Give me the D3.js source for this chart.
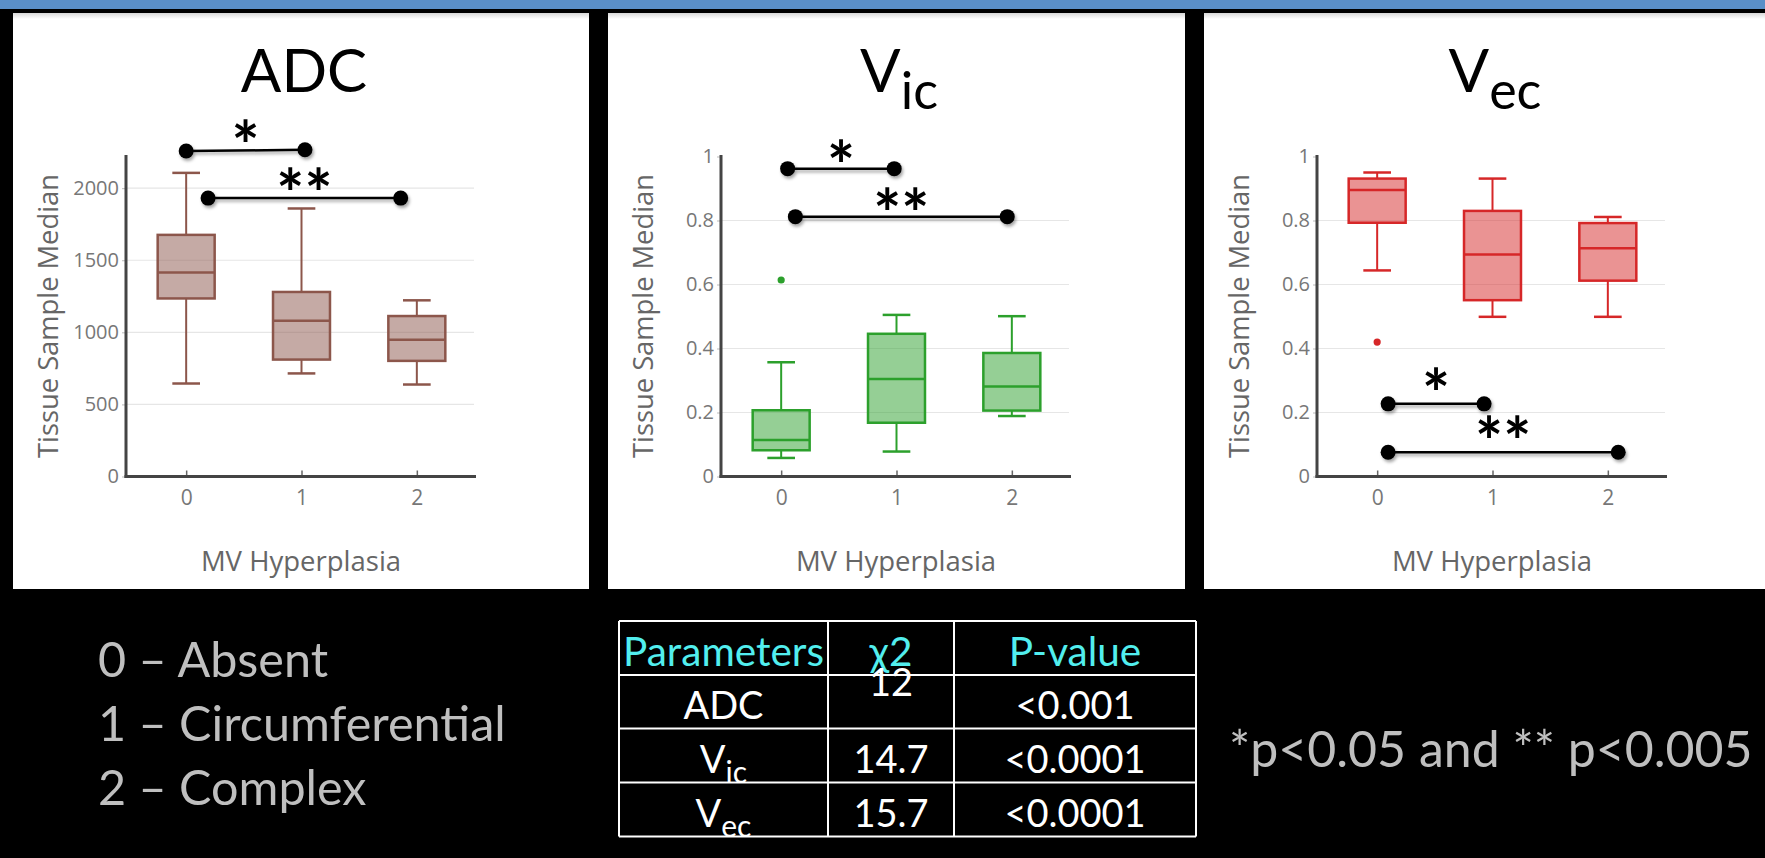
<!DOCTYPE html>
<html>
<head>
<meta charset="utf-8">
<script src="https://cdn.jsdelivr.net/npm/d3@7"></script>
<style>
  html, body { margin: 0; padding: 0; background: #000; }
  svg { display: block; }
</style>
</head>
<body>
<svg id="fig" width="1765" height="858"></svg>
<script>
// ---- data -------------------------------------------------------------
const categories = [0, 1, 2];
const legendLines = ["0 \u2013 Absent", "1 \u2013 Circumferential", "2 \u2013 Complex"];

// each box: [lower whisker, Q1, median, Q3, upper whisker]
const adcBoxes = [
  [645, 1235, 1415, 1676, 2106],
  [715, 811, 1081, 1280, 1859],
  [638, 802, 949, 1113, 1222]
];
const adcOutliers = [];
const adcTicks = [0, 500, 1000, 1500, 2000];

const vicBoxes = [
  [0.058, 0.082, 0.114, 0.207, 0.357],
  [0.078, 0.168, 0.305, 0.446, 0.505],
  [0.189, 0.206, 0.281, 0.386, 0.501]
];
const vicOutliers = [[0, 0.614]];

const vecBoxes = [
  [0.644, 0.793, 0.895, 0.931, 0.950],
  [0.499, 0.551, 0.694, 0.830, 0.931],
  [0.499, 0.612, 0.713, 0.792, 0.811]
];
const vecOutliers = [[0, 0.420]];
const fractionTicks = [0, 0.2, 0.4, 0.6, 0.8, 1];

// significance brackets: from / to in category units, height in data units
const adcBrackets = [
  { from: 0.00, to: 1.03, y0: 2258, y1: 2266, mark: "*" },
  { from: 0.19, to: 1.86, y0: 1931, y1: 1931, mark: "**" }
];
const vicBrackets = [
  { from: 0.056, to: 0.98, y0: 0.962, y1: 0.962, mark: "*" },
  { from: 0.123, to: 1.96, y0: 0.812, y1: 0.812, mark: "**" }
];
const vecBrackets = [
  { from: 0.095, to: 0.927, y0: 0.227, y1: 0.227, mark: "*" },
  { from: 0.095, to: 2.09, y0: 0.076, y1: 0.076, mark: "**" }
];

const tableHeader = ["Parameters", "\u03C72", "P-value"];
const tableParams = [["ADC", ""], ["V", "ic"], ["V", "ec"]];
const tableChi2 = ["12", "14.7", "15.7"];
const tablePValues = ["<0.001", "<0.0001", "<0.0001"];
const footnote = "*p<0.05 and ** p<0.005";

// ---- drawing ----------------------------------------------------------
const svg = d3.select("#fig");
const W = 1765, H = 858;
const titleFont = "Lato, 'Open Sans', sans-serif";
const plotFont = "'Open Sans', 'Noto Sans', sans-serif";

const defs = svg.append("defs");
const shadow = defs.append("filter").attr("id", "markShadow")
  .attr("x", "-20%").attr("y", "-50%").attr("width", "140%").attr("height", "220%");
shadow.append("feDropShadow").attr("dx", 1.5).attr("dy", 2.5)
  .attr("stdDeviation", 1.6).attr("flood-color", "#000").attr("flood-opacity", 0.35);
const topShade = defs.append("linearGradient").attr("id", "topShade")
  .attr("x1", 0).attr("y1", 0).attr("x2", 0).attr("y2", 1);
topShade.append("stop").attr("offset", 0).attr("stop-color", "#d8d8d8");
topShade.append("stop").attr("offset", 1).attr("stop-color", "#fff");

svg.append("rect").attr("width", W).attr("height", H).attr("fill", "#000");
svg.append("rect").attr("width", W).attr("height", 9).attr("fill", "#5a8fc8");

const panels = [
  { left: 13,   width: 576, title: "ADC", sub: "", boxes: adcBoxes, outliers: adcOutliers,
    ticks: adcTicks, yMax: 2230, color: "#8c564b", brackets: adcBrackets, markGap: 15 },
  { left: 608,  width: 577, title: "V", sub: "ic", boxes: vicBoxes, outliers: vicOutliers,
    ticks: fractionTicks, yMax: 1, color: "#2ca02c", brackets: vicBrackets, markGap: 14 },
  { left: 1204, width: 561, title: "V", sub: "ec", boxes: vecBoxes, outliers: vecOutliers,
    ticks: fractionTicks, yMax: 1, color: "#d62728", brackets: vecBrackets, markGap: 21 }
];

const panelTop = 13, panelBottom = 589;
const yZero = 476.5, yTop = 156.5;

panels.forEach(p => {
  const g = svg.append("g");
  g.append("rect").attr("x", p.left).attr("y", panelTop)
    .attr("width", p.width).attr("height", panelBottom - panelTop).attr("fill", "#fff");
  g.append("rect").attr("x", p.left).attr("y", panelTop)
    .attr("width", p.width).attr("height", 6).attr("fill", "url(#topShade)");

  const axisL = p.left + 113, axisR = p.left + 463;
  const x = d3.scaleLinear().domain([-0.5, 2.5]).range([p.left + 115.5, p.left + 461.5]);
  const y = d3.scaleLinear().domain([0, p.yMax]).range([yZero, p.yMax === 1 ? yTop : 155]);

  // grid
  g.append("g").selectAll("line").data(p.ticks.filter(t => t > 0 && t < p.yMax)).join("line")
    .attr("x1", axisL).attr("x2", axisR - 2)
    .attr("y1", d => y(d)).attr("y2", d => y(d))
    .attr("stroke", "#e6e6e6").attr("stroke-width", 1.2);

  // axes
  const fmt = p.yMax === 1 ? (d => d === 0 || d === 1 ? String(d) : d3.format(".1f")(d)) : d3.format("d");
  const yAxis = g.append("g").attr("transform", `translate(${axisL},0)`)
    .call(d3.axisLeft(y).tickValues(p.ticks).tickFormat(fmt).tickSize(4).tickPadding(3));
  yAxis.select(".domain").remove();
  yAxis.selectAll(".tick line").attr("stroke", "#bbb");
  yAxis.selectAll("text").attr("fill", "#777").attr("font-family", plotFont)
    .attr("font-size", 20);

  const xAxis = g.append("g").attr("transform", `translate(0,${yZero})`)
    .call(d3.axisBottom(x).tickValues(categories).tickFormat(d3.format("d")).tickSize(-6).tickPadding(14));
  xAxis.select(".domain").remove();
  xAxis.selectAll(".tick line").attr("stroke", "#666").attr("stroke-width", 1.5);
  xAxis.selectAll("text").attr("fill", "#777").attr("font-family", plotFont)
    .attr("font-size", 21);

  g.append("line").attr("x1", axisL).attr("x2", axisL).attr("y1", 155).attr("y2", yZero + 1.5)
    .attr("stroke", "#444").attr("stroke-width", 3);
  g.append("line").attr("x1", axisL - 1.5).attr("x2", axisR).attr("y1", yZero).attr("y2", yZero)
    .attr("stroke", "#444").attr("stroke-width", 3);

  // axis titles
  g.append("text").attr("transform", `translate(${p.left + 35},316) rotate(-90)`)
    .attr("text-anchor", "middle").attr("dy", "0.35em")
    .attr("font-family", plotFont).attr("font-size", 27.3).attr("fill", "#666")
    .text("Tissue Sample Median");
  g.append("text").attr("x", (axisL + axisR) / 2).attr("y", 571)
    .attr("text-anchor", "middle")
    .attr("font-family", plotFont).attr("font-size", 27.5).attr("fill", "#666")
    .text("MV Hyperplasia");

  // panel title
  const t = g.append("text").attr("x", (axisL + axisR) / 2 + 3).attr("y", 92)
    .attr("text-anchor", "middle").attr("font-family", titleFont).attr("fill", "#000");
  t.append("tspan").attr("font-size", 60).text(p.title);
  if (p.sub) t.append("tspan").attr("font-size", 52).attr("dy", 17).text(p.sub);

  // boxes
  const halfBox = 0.247, halfCap = 0.12;
  const fill = d3.color(p.color); fill.opacity = 0.5;
  const bg = g.append("g").selectAll("g").data(p.boxes).join("g");
  bg.append("line")
    .attr("x1", (d, i) => x(i)).attr("x2", (d, i) => x(i))
    .attr("y1", d => y(d[0])).attr("y2", d => y(d[1]))
    .attr("stroke", p.color).attr("stroke-width", 2);
  bg.append("line")
    .attr("x1", (d, i) => x(i)).attr("x2", (d, i) => x(i))
    .attr("y1", d => y(d[3])).attr("y2", d => y(d[4]))
    .attr("stroke", p.color).attr("stroke-width", 2);
  [0, 4].forEach(k => {
    bg.append("line")
      .attr("x1", (d, i) => x(i - halfCap)).attr("x2", (d, i) => x(i + halfCap))
      .attr("y1", d => y(d[k])).attr("y2", d => y(d[k]))
      .attr("stroke", p.color).attr("stroke-width", 2.5);
  });
  bg.append("rect")
    .attr("x", (d, i) => x(i - halfBox)).attr("width", (d, i) => x(i + halfBox) - x(i - halfBox))
    .attr("y", d => y(d[3])).attr("height", d => y(d[1]) - y(d[3]))
    .attr("fill", fill.formatRgb()).attr("stroke", p.color).attr("stroke-width", 2.5);
  bg.append("line")
    .attr("x1", (d, i) => x(i - halfBox)).attr("x2", (d, i) => x(i + halfBox))
    .attr("y1", d => y(d[2])).attr("y2", d => y(d[2]))
    .attr("stroke", p.color).attr("stroke-width", 2.5);

  g.append("g").selectAll("circle").data(p.outliers).join("circle")
    .attr("cx", d => x(d[0])).attr("cy", d => y(d[1])).attr("r", 3.6)
    .attr("fill", p.color);

  // significance brackets
  const br = g.append("g").selectAll("g").data(p.brackets).join("g");
  const marks = br.append("g").attr("filter", "url(#markShadow)");
  marks.append("line")
    .attr("x1", d => x(d.from)).attr("x2", d => x(d.to))
    .attr("y1", d => y(d.y0)).attr("y2", d => y(d.y1))
    .attr("stroke", "#000").attr("stroke-width", 2.5);
  marks.append("circle").attr("cx", d => x(d.from)).attr("cy", d => y(d.y0)).attr("r", 7.5).attr("fill", "#000");
  marks.append("circle").attr("cx", d => x(d.to)).attr("cy", d => y(d.y1)).attr("r", 7.5).attr("fill", "#000");
  br.append("text")
    .attr("x", d => (x(d.from) + x(d.to)) / 2)
    .attr("y", d => (y(d.y0) + y(d.y1)) / 2 - p.markGap + 35)
    .attr("text-anchor", "middle").attr("font-family", titleFont)
    .attr("font-size", 66).attr("font-weight", 700).attr("fill", "#000")
    .text(d => d.mark);
});

// ---- category key ----------------------------------------------------
svg.append("g").selectAll("text").data(legendLines).join("text")
  .attr("x", 98).attr("y", (d, i) => 677 + i * 64)
  .attr("font-family", titleFont).attr("font-size", 48.5).attr("fill", "#bfbfbf")
  .text(d => d);

// ---- test statistics table ------------------------------------------
const colEdges = [619, 828, 954, 1196];
const rowEdges = [621, 675, 728.5, 782.5, 836.5];
const tbl = svg.append("g");
tbl.append("g").selectAll("line").data(rowEdges).join("line")
  .attr("x1", colEdges[0]).attr("x2", colEdges[3])
  .attr("y1", d => d).attr("y2", d => d)
  .attr("stroke", "#fff").attr("stroke-width", 2);
tbl.append("g").selectAll("line").data(colEdges).join("line")
  .attr("x1", d => d).attr("x2", d => d)
  .attr("y1", rowEdges[0]).attr("y2", rowEdges[4])
  .attr("stroke", "#fff").attr("stroke-width", 2);
const colMid = i => (colEdges[i] + colEdges[i + 1]) / 2;
const rowBase = [666, 719, 773, 827];
tbl.append("g").selectAll("text").data(tableHeader).join("text")
  .attr("x", (d, i) => colMid(i)).attr("y", rowBase[0])
  .attr("text-anchor", "middle").attr("font-family", titleFont).attr("font-size", 40.5)
  .attr("fill", "#52eeee").text(d => d);
const paramText = tbl.append("g").selectAll("text").data(tableParams).join("text")
  .attr("x", colMid(0)).attr("y", (d, i) => rowBase[i + 1])
  .attr("text-anchor", "middle").attr("font-family", titleFont).attr("font-size", 38)
  .attr("fill", "#fff");
paramText.append("tspan").text(d => d[0]);
paramText.filter(d => d[1]).append("tspan").attr("font-size", 30).attr("dy", 10).text(d => d[1]);
tbl.append("g").selectAll("text").data(tableChi2).join("text")
  .attr("x", colMid(1)).attr("y", (d, i) => i === 0 ? 696 : rowBase[i + 1])
  .attr("text-anchor", "middle").attr("font-family", titleFont).attr("font-size", 38)
  .attr("fill", "#fff").text(d => d);
tbl.append("g").selectAll("text").data(tablePValues).join("text")
  .attr("x", colMid(2)).attr("y", (d, i) => rowBase[i + 1])
  .attr("text-anchor", "middle").attr("font-family", titleFont).attr("font-size", 38)
  .attr("fill", "#fff").text(d => d);

// ---- footnote ----------------------------------------------------------
svg.append("text").attr("x", 1229).attr("y", 767)
  .attr("font-family", titleFont).attr("font-size", 50).attr("fill", "#bfbfbf")
  .text(footnote);
</script>
</body>
</html>
